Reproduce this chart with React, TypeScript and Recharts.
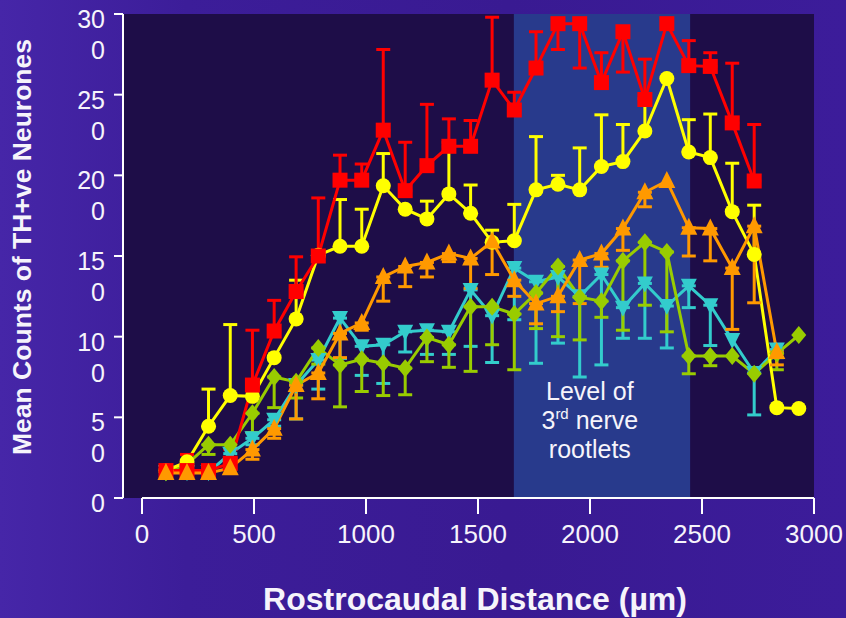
import { ComposedChart, Line, XAxis, YAxis, CartesianGrid, ReferenceArea, ReferenceLine, ErrorBar } from 'recharts';

// Section positions along the rostrocaudal axis (µm)
const DISTANCE = [107, 201, 297, 394, 493, 590, 688, 787, 884, 981, 1077, 1175, 1272, 1370, 1467, 1563, 1662, 1759, 1857, 1954, 2051, 2147, 2245, 2343, 2441, 2537, 2635, 2733, 2834, 2932];

// Mean counts per section; error is signed: + drawn upward, - drawn downward
const RED = [17, 17, 17, 21.5, 70, 103.5, 128, 150, 197, 197, 228, 190.5, 206, 218, 218, 259, 240.5, 266.5, 294, 294, 257.5, 289, 247, 294, 268, 267.5, 232.5, 196.5, null, null];
const RED_ERR = [0, 10, 0, 8.5, 34, 19, 21.5, 36, 15.5, 10, 50, 30, 38, 17, 16, 39, 11, 22.5, -16, -27.5, 18.5, -25, 25, 0, 15.5, 8.5, 37, 35, null, null];

const YELLOW = [17, 22.5, 44.5, 63.5, 63, 87, 111, 150.5, 156, 156, 193.5, 179, 173, 188.5, 176.5, 158.5, 159.5, 191, 194.5, 191, 205.5, 208.5, 227.5, 260, 214.5, 211, 177.5, 151, 56, 55.5];
const YELLOW_ERR = [0, 0, 23, 44, 0, 0, 24, 0, 29, 23, 20, 0, 11, 32, 17.5, 7.5, 22.5, 33, 5.5, 26, 32, 23, 20, 0, 20, 27, 30, 30.5, 0, 0];

const ORANGE = [15.5, 15.5, 15.5, 18.5, 30, 43, 70, 77.5, 102, 108.5, 137, 143.5, 146, 151.5, 148.5, 159, 135, 120.5, 125, 147.5, 151.5, 167, 189.5, 196.5, 167.5, 167, 142.5, 168.5, 90.5, null];
const ORANGE_ERR = [0, 0, 0, 0, -6, -6, -21, -16, -15, -4.5, -15, -12.5, -9, -5, -18.5, -20.5, -10, -12.5, -9.5, -27, -8.5, -13.5, -9, 0, -17.5, -20, -38, -47.5, -8, null];

const CYAN = [16, 16, 16, 27.5, 37, 48.5, 70, 85.5, 111.5, 94, 95, 103, 104, 103, 129, 113, 142.5, 134, 137, 125, 138.5, 118, 133, 119, 131.5, 119.5, 98, 77.5, 92, null];
const CYAN_ERR = [0, 0, 0, -3, -4, -4, -21, -18, -25, -18, -24, -12.5, -15, -14, -35, -29, -32, -50.5, -41, -50, -56, -19, -34, -26, -13.5, -25, 0, -26, -5, null];

const GREEN = [16, 21, 33, 33, 52.5, 75, 72, 93, 82.5, 86, 83.5, 80.5, 99.5, 95, 118.5, 118.5, 114, 127, 143.5, 124.5, 122, 147, 158.5, 152.5, 88, 88, 88, 77, 89.5, 101];
const GREEN_ERR = [0, 0, -6, 0, -12, -19, -10, -10, -26, -20, -20, -16.5, -15, -14, -40, -23.5, -34.5, -22, -43.5, -26.5, -10, -43, -39, -49.5, -11, -6, 0, 0, -10, 0];

const X_TICKS = [0, 500, 1000, 1500, 2000, 2500, 3000];
const Y_TICKS = [0, 50, 100, 150, 200, 250, 300];

const FONT = '"Liberation Sans", Arial, sans-serif';
const TEXT = '#f6f4fb';

// drawing order: later series sit on top
const SERIES = [
  { key: 'cyan', values: CYAN, errors: CYAN_ERR, color: '#33cccc', shape: 'triangleDown' },
  { key: 'green', values: GREEN, errors: GREEN_ERR, color: '#99cc00', shape: 'diamond' },
  { key: 'yellow', values: YELLOW, errors: YELLOW_ERR, color: '#ffff00', shape: 'circle' },
  { key: 'red', values: RED, errors: RED_ERR, color: '#ff0000', shape: 'square' },
  { key: 'orange', values: ORANGE, errors: ORANGE_ERR, color: '#ff9900', shape: 'triangle' },
];

const data = DISTANCE.map((x, i) => {
  const row: Record<string, any> = { x };
  SERIES.forEach((s) => {
    row[s.key] = s.values[i];
    const e = s.errors[i];
    row[s.key + 'Err'] = e ? (e > 0 ? [0, e] : [-e, 0]) : null;
  });
  return row;
});

function Marker({ cx, cy, shape, color }: { cx?: number; cy?: number; shape: string; color: string }) {
  if (cx == null || cy == null || isNaN(cy)) return <g />;
  switch (shape) {
    case 'square':
      return <rect x={cx - 7.5} y={cy - 7.5} width={15} height={15} fill={color} />;
    case 'circle':
      return <circle cx={cx} cy={cy} r={7.5} fill={color} />;
    case 'triangle':
      return <polygon points={`${cx},${cy - 10} ${cx + 8.5},${cy + 7} ${cx - 8.5},${cy + 7}`} fill={color} />;
    case 'triangleDown':
      return <polygon points={`${cx - 8},${cy - 7} ${cx + 8},${cy - 7} ${cx},${cy + 9}`} fill={color} />;
    default:
      return <polygon points={`${cx},${cy - 9} ${cx + 7.5},${cy} ${cx},${cy + 9} ${cx - 7.5},${cy}`} fill={color} />;
  }
}

// y tick labels are wrapped onto two lines ("30" / "0")
function YTick({ x, y, payload }: any) {
  const s = String(payload.value);
  const head = s.length > 1 ? s.slice(0, -1) : s;
  const tail = s.length > 1 ? s.slice(-1) : null;
  return (
    <g>
      <text x={x} y={y + 14} textAnchor="end" fill={TEXT} fontSize={25} fontFamily={FONT}>{head}</text>
      {tail && <text x={x} y={y + 45} textAnchor="end" fill={TEXT} fontSize={25} fontFamily={FONT}>{tail}</text>}
    </g>
  );
}

function XTick({ x, y, payload }: any) {
  return (
    <text x={x} y={y + 29} textAnchor="middle" fill={TEXT} fontSize={26} fontFamily={FONT}>
      {payload.value}
    </text>
  );
}

function BandLabel({ viewBox }: any) {
  if (!viewBox) return null;
  const cx = viewBox.x + 76;
  return (
    <g fill={TEXT} fontFamily={FONT} fontSize={25}>
      <text x={cx} y={400} textAnchor="middle">Level of</text>
      <text x={cx} y={429} textAnchor="middle">
        3<tspan fontSize={15} dy={-10}>rd</tspan>
        <tspan dy={10}> nerve</tspan>
      </text>
      <text x={cx} y={458} textAnchor="middle">rootlets</text>
    </g>
  );
}

function XTitle() {
  return (
    <text x={475} y={610} textAnchor="middle" fill={TEXT} fontSize={32} fontWeight="bold" fontFamily={FONT}>
      Rostrocaudal Distance (µm)
    </text>
  );
}

function YTitle() {
  return (
    <text x={31} y={247} textAnchor="middle" transform="rotate(-90, 31, 247)" fill={TEXT} fontSize={26.5} fontWeight="bold" fontFamily={FONT}>
      Mean Counts of TH+ve Neurones
    </text>
  );
}

export default function App() {
  return (
    <div
      style={{
        position: 'absolute',
        left: 0,
        top: 0,
        width: 846,
        height: 618,
        background: 'linear-gradient(90deg, #4626a8 0%, #3c1d99 22%, #391a92 60%, #3c1c9a 100%)',
      }}
    >
      <ComposedChart width={846} height={618} data={data} margin={{ top: 14, right: 32, bottom: 60, left: 0 }}>
        <CartesianGrid horizontal={false} vertical={false} fill="#1e0d48" fillOpacity={1} />
        <ReferenceArea x1={1660} x2={2447} fill="#283a8c" fillOpacity={1} ifOverflow="visible" label={<BandLabel />} />
        <XAxis
          type="number"
          dataKey="x"
          domain={[0, 3000]}
          ticks={X_TICKS}
          padding={{ left: 19, right: 0 }}
          axisLine={false}
          tickLine={{ stroke: '#ffffff', strokeWidth: 2 }}
          tickSize={16}
          tickMargin={0}
          height={60}
          tick={<XTick />}
          allowDataOverflow
          label={<XTitle />}
        />
        <YAxis
          type="number"
          domain={[0, 300]}
          ticks={Y_TICKS}
          width={123}
          axisLine={{ stroke: '#ffffff', strokeWidth: 2 }}
          tickLine={{ stroke: '#ffffff', strokeWidth: 2 }}
          tickSize={9}
          tickMargin={9}
          tick={<YTick />}
          allowDataOverflow
          label={<YTitle />}
        />
        <ReferenceLine
          segment={[{ x: 0, y: 0 }, { x: 3000, y: 0 }]}
          stroke="#ffffff"
          strokeWidth={2}
          ifOverflow="visible"
        />
        {SERIES.map((s) => (
          <Line
            key={s.key}
            type="linear"
            dataKey={s.key}
            stroke={s.color}
            strokeWidth={3}
            isAnimationActive={false}
            activeDot={false}
            dot={(p: any) => <Marker key={`${s.key}-${p.index}`} cx={p.cx} cy={p.cy} shape={s.shape} color={s.color} />}
          >
            <ErrorBar dataKey={s.key + 'Err'} direction="y" width={7} strokeWidth={3} stroke={s.color} isAnimationActive={false} />
          </Line>
        ))}
      </ComposedChart>
    </div>
  );
}
